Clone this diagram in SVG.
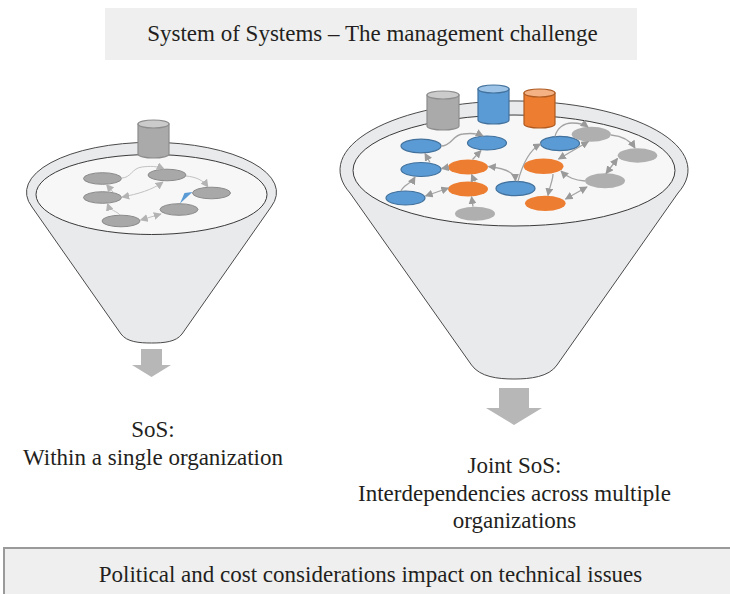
<svg xmlns="http://www.w3.org/2000/svg" width="730" height="594" viewBox="0 0 730 594">
  <style>
    text { font-family: 'Liberation Serif', 'Times New Roman', Times, serif; font-size: 23px; fill: #231f20; text-anchor: middle; }
    .band { fill: #efefef; }
    .rim { fill: #e9eaec; stroke: #4a4a4a; stroke-width: 1; }
    .bowl { fill: #f7f7f7; stroke: #3a3a3a; stroke-width: 1; }
    .sn { fill: #a8a8a8; stroke: #8a8a8a; stroke-width: 1; }
    .blue { fill: #5b9bd5; stroke: #41719c; stroke-width: 1.2; }
    .orange { fill: #ed7d31; }
    .grey { fill: #afafaf; }
    .cyl-g { fill: #aaaaaa; stroke: #8c8c8c; stroke-width: 1.2; }
    .cyl-g-top { fill: #cbcbcb; stroke: #8c8c8c; stroke-width: 1.2; }
    .cyl-b { fill: #5b9bd5; stroke: #41719c; stroke-width: 1.2; }
    .cyl-b-top { fill: #9dc3e6; stroke: #41719c; stroke-width: 1.2; }
    .cyl-o { fill: #ed7d31; stroke: #ae5a21; stroke-width: 1.2; }
    .cyl-o-top { fill: #f4b183; stroke: #ae5a21; stroke-width: 1.2; }
    .flow { fill: #b7b7b7; }
    .lk-s { fill: none; stroke: #c2c2c2; stroke-width: 1; }
    .lk-l { fill: none; stroke: #a3a3a3; stroke-width: 1.3; }
  </style>
  <defs>
    <marker id="hs" viewBox="0 0 10 10" refX="9" refY="5" markerWidth="8" markerHeight="8" markerUnits="userSpaceOnUse" orient="auto-start-reverse">
      <path d="M0,0 L10,5 L0,10 z" fill="#b3b3b3"/>
    </marker>
    <marker id="hl" viewBox="0 0 10 10" refX="9" refY="5" markerWidth="8" markerHeight="8" markerUnits="userSpaceOnUse" orient="auto-start-reverse">
      <path d="M0,0 L10,5 L0,10 z" fill="#9a9a9a"/>
    </marker>
  </defs>

  <!-- heading band -->
  <g id="title">
    <rect class="band" x="105" y="8" width="532" height="52"/>
    <text x="372.5" y="41">System of Systems – The management challenge</text>
  </g>

  <!-- left funnel: single organization -->
  <g id="funnel-single">
    <path class="rim" d="M32,207 A125,50 0 1 1 271,207 L182,334 C176,342 164,343 151.5,343 C139,343 127,342 121,334 Z"/>
    <ellipse class="bowl" cx="151.5" cy="194.5" rx="115.5" ry="40"/>
    <g id="store-single">
      <path class="cyl-g" d="M138,124 L138,154 A15.5,4 0 0 0 169,154 L169,124 Z"/>
      <ellipse class="cyl-g-top" cx="153.5" cy="124" rx="15.5" ry="4"/>
    </g>
    <g id="s-n1"><ellipse class="sn" cx="102.5" cy="178.5" rx="19" ry="5.8"/></g>
    <g id="s-n2"><ellipse class="sn" cx="167" cy="175" rx="19" ry="5.8"/></g>
    <g id="s-n3"><ellipse class="sn" cx="211.5" cy="193" rx="19" ry="5.8"/></g>
    <g id="s-n4"><ellipse class="sn" cx="102.5" cy="197.5" rx="19" ry="5.8"/></g>
    <g id="s-n5"><ellipse class="sn" cx="179" cy="209.5" rx="19" ry="5.8"/></g>
    <g id="s-n6"><ellipse class="sn" cx="121" cy="221" rx="19" ry="5.8"/></g>
  </g>

  <g id="links-single">
    <path class="lk-s" marker-end="url(#hs)" d="M121.5,178 C131,178 132,168 142,167 C150,166 157,166 164,169"/>
    <path class="lk-s" marker-end="url(#hs)" d="M186,176 C196,177 203,180 208,187"/>
    <path class="lk-s" marker-start="url(#hs)" marker-end="url(#hs)" d="M122,197 C138,194 152,190 163,182"/>
    <path class="lk-s" marker-end="url(#hs)" d="M113,192 L106.5,184.5"/>
    <path class="lk-s" marker-end="url(#hs)" d="M120,215 C117,211 110,211 107.5,203.5"/>
    <path class="lk-s" marker-start="url(#hs)" marker-end="url(#hs)" d="M140.5,220 L161,214"/>
    <polygon points="180,203.5 184.5,193 192.5,192" fill="#5b9bd5"/>
  </g>

  <g id="out-single">
    <path class="flow" d="M141,349 L162,349 L162,365 L171,365 L151.5,377 L132,365 L141,365 Z"/>
  </g>

  <!-- right funnel: several organizations -->
  <g id="funnel-joint">
    <path class="rim" d="M350,193 A174,69 0 1 1 678,193 L557,365 C549,377 530,379 514,379 C498,379 480,377 471.5,365 Z"/>
    <ellipse class="bowl" cx="514" cy="170.5" rx="161" ry="55.5"/>
    <g id="store-grey">
      <path class="cyl-g" d="M427,95 L427,126 A16,4 0 0 0 459,126 L459,95 Z"/>
      <ellipse class="cyl-g-top" cx="443" cy="95" rx="16" ry="4"/>
    </g>
    <g id="store-blue">
      <path class="cyl-b" d="M478,89 L478,120 A15.5,4 0 0 0 509,120 L509,89 Z"/>
      <ellipse class="cyl-b-top" cx="493.5" cy="89" rx="15.5" ry="4"/>
    </g>
    <g id="store-orange">
      <path class="cyl-o" d="M524,93 L524,124 A15.5,4 0 0 0 555,124 L555,93 Z"/>
      <ellipse class="cyl-o-top" cx="539.5" cy="93" rx="15.5" ry="4"/>
    </g>
    <g id="j-b1"><ellipse class="blue" cx="421" cy="146" rx="20" ry="6.8"/></g>
    <g id="j-b2"><ellipse class="blue" cx="487" cy="143" rx="19.5" ry="7"/></g>
    <g id="j-b3"><ellipse class="blue" cx="421" cy="169.5" rx="20" ry="7"/></g>
    <g id="j-b4"><ellipse class="blue" cx="405.5" cy="198" rx="19.5" ry="7"/></g>
    <g id="j-b5"><ellipse class="blue" cx="515.5" cy="188.5" rx="19.5" ry="7.2"/></g>
    <g id="j-b6"><ellipse class="blue" cx="560" cy="143.5" rx="19.5" ry="7.2"/></g>
    <g id="j-o1"><ellipse class="orange" cx="468" cy="167" rx="20" ry="7.5"/></g>
    <g id="j-o2"><ellipse class="orange" cx="468" cy="189" rx="20" ry="7.5"/></g>
    <g id="j-o3"><ellipse class="orange" cx="543.5" cy="166.3" rx="20" ry="7.8"/></g>
    <g id="j-o4"><ellipse class="orange" cx="545.3" cy="203.3" rx="20.3" ry="7.6"/></g>
    <g id="j-g1"><ellipse class="grey" cx="475" cy="213.7" rx="20" ry="7"/></g>
    <g id="j-g2"><ellipse class="grey" cx="591.3" cy="134.2" rx="19.6" ry="7.5"/></g>
    <g id="j-g3"><ellipse class="grey" cx="637.5" cy="155.5" rx="19.8" ry="7.2"/></g>
    <g id="j-g4"><ellipse class="grey" cx="605" cy="180.8" rx="20" ry="7.5"/></g>
  </g>

  <g id="links-joint">
    <path class="lk-l" marker-end="url(#hl)" d="M441,146 C452,146 452,135 463,134 C471,133 477,133 483,136"/>
    <path class="lk-l" marker-end="url(#hl)" d="M430,162.5 L425,153.5"/>
    <path class="lk-l" marker-end="url(#hl)" d="M449,167 L441.5,168.5"/>
    <path class="lk-l" marker-end="url(#hl)" d="M472.5,159.5 L481,150.5"/>
    <path class="lk-l" marker-end="url(#hl)" d="M401,191 C403,185 411,184 415,177"/>
    <path class="lk-l" marker-start="url(#hl)" marker-end="url(#hl)" d="M425.5,196 L448.5,188"/>
    <path class="lk-l" marker-end="url(#hl)" d="M475,181.5 C475,179 473,178 471.5,174.5"/>
    <path class="lk-l" marker-end="url(#hl)" d="M473,206.7 L471.5,196.7"/>
    <path class="lk-l" marker-start="url(#hl)" marker-end="url(#hl)" d="M488.5,166.5 C504,168 515,172 515.5,181"/>
    <path class="lk-l" marker-end="url(#hl)" d="M518,181.3 C522,166 528,151 540.5,144"/>
    <path class="lk-l" marker-end="url(#hl)" d="M555,136.5 C557,128 564,123 572,123 C578,123 584,124 588,127"/>
    <path class="lk-l" marker-start="url(#hl)" marker-end="url(#hl)" d="M558.5,159 L588.5,141.5"/>
    <path class="lk-l" marker-end="url(#hl)" d="M611,135 C622,136 630,140 635,148"/>
    <path class="lk-l" marker-start="url(#hl)" marker-end="url(#hl)" d="M617.5,158.5 L606,173.5"/>
    <path class="lk-l" marker-end="url(#hl)" d="M585,181 C575,180 568,178 561,171"/>
    <path class="lk-l" marker-end="url(#hl)" d="M553,174 C553,180 550,185 548,195.5"/>
    <path class="lk-l" marker-start="url(#hl)" marker-end="url(#hl)" d="M565.5,199 L587,187"/>
  </g>

  <g id="out-joint">
    <path class="flow" d="M499,388 L529,388 L529,408 L542,408 L514,425 L486,408 L499,408 Z"/>
  </g>

  <!-- captions -->
  <g id="cap-single">
    <text x="153" y="437">SoS:</text>
    <text x="153" y="465">Within a single organization</text>
  </g>
  <g id="cap-joint">
    <text x="514.5" y="473">Joint SoS:</text>
    <text x="514.5" y="501">Interdependencies across multiple</text>
    <text x="514.5" y="528">organizations</text>
  </g>

  <!-- footer band -->
  <g id="footer">
    <rect x="4" y="548" width="730" height="50" fill="#efefef" stroke="#9a9a9a" stroke-width="2"/>
    <text x="370.5" y="582">Political and cost considerations impact on technical issues</text>
  </g>
</svg>
